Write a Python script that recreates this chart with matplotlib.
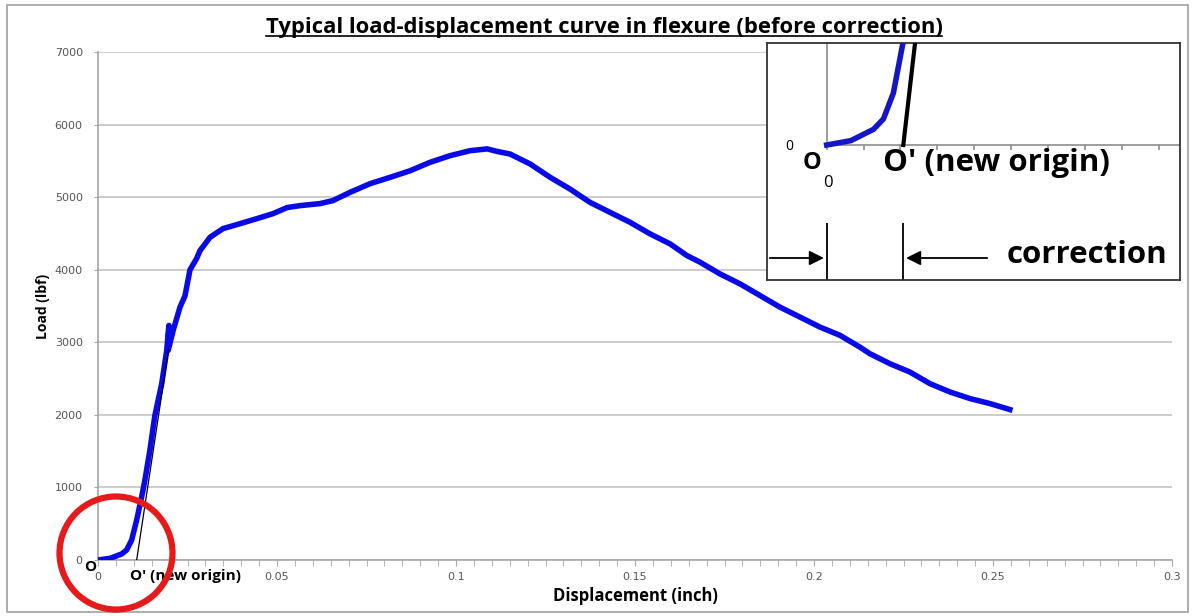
import numpy as np
import matplotlib.pyplot as plt
from matplotlib.patches import Ellipse, Rectangle
from matplotlib.lines import Line2D

# load-displacement data
disp = [0.0, 0.0034, 0.0066, 0.0080, 0.0094, 0.0108, 0.0122, 0.0131, 0.0145, 0.0159,
        0.0178, 0.0192, 0.0198, 0.0196, 0.0210, 0.0229, 0.0243, 0.0257, 0.0275, 0.0285,
        0.0313, 0.0349, 0.0397, 0.0444, 0.0489, 0.0528, 0.0564, 0.0620, 0.0656, 0.0704,
        0.0760, 0.0816, 0.0872, 0.0927, 0.0983, 0.1039, 0.1087, 0.1115, 0.1151, 0.1207,
        0.1263, 0.1318, 0.1374, 0.1430, 0.1486, 0.1542, 0.1598, 0.1645, 0.1682, 0.1737,
        0.1793, 0.1849, 0.1905, 0.1961, 0.2017, 0.2073, 0.2128, 0.2156, 0.2212, 0.2268,
        0.2324, 0.2380, 0.2436, 0.2492, 0.2547]
load = [0, 23, 83, 138, 275, 550, 871, 1100, 1513, 1994,
        2430, 2889, 3232, 2889, 3164, 3484, 3640, 3999, 4150, 4264,
        4447, 4566, 4635, 4704, 4773, 4856, 4883, 4911, 4952, 5066,
        5186, 5273, 5364, 5479, 5571, 5640, 5665, 5630, 5594, 5457,
        5273, 5113, 4929, 4791, 4654, 4494, 4356, 4195, 4103, 3943,
        3806, 3645, 3484, 3347, 3209, 3095, 2934, 2843, 2705, 2590,
        2430, 2315, 2224, 2155, 2073]

# tangent line through the linear part, meeting the axis at O'
tan_x = [0.0108, 0.0197]
tan_y = [0, 2900]

xticks = [0, 0.05, 0.1, 0.15, 0.2, 0.25, 0.3]
xticklabels = ['0', '0.05', '0.1', '0.15', '0.2', '0.25', '0.3']
yticks = [0, 1000, 2000, 3000, 4000, 5000, 6000, 7000]

W, H = 1193, 616
def fx(px):
    return px / W
def fy(py):
    return 1 - py / H

FONT = 'Open Sans'

fig = plt.figure(figsize=(W / 100, H / 100), dpi=100)
fig.patch.set_facecolor('white')

ax = fig.add_axes([fx(98), fy(560), fx(1172) - fx(98), fy(52) - fy(560)])
ax.plot(disp, load, color='#0a0ae6', lw=4, solid_joinstyle='round', zorder=3)
ax.plot(tan_x, tan_y, color='black', lw=0.9, zorder=4)

ax.set_xlim(0, 0.3)
ax.set_ylim(0, 7000)
ax.set_xticks(xticks)
ax.set_xticklabels(xticklabels)
ax.set_xticks(np.arange(0, 0.3001, 0.005), minor=True)
ax.set_yticks(yticks)
ax.set_yticklabels([str(v) for v in yticks])
gray = '#a6a6a6'
ax.grid(axis='y', color='#c4c4c4', lw=1.2)
ax.set_axisbelow(True)
for s in ['top', 'right']:
    ax.spines[s].set_visible(False)
for s in ['left', 'bottom']:
    ax.spines[s].set_color(gray)
    ax.spines[s].set_linewidth(1.2)
ax.tick_params(axis='x', which='both', length=4, color=gray, labelsize=8,
               labelcolor='#555555', pad=5)
ax.tick_params(axis='y', length=3, color=gray, labelsize=8, labelcolor='#555555', pad=8)
ax.set_xlabel('Displacement (inch)', fontsize=12, fontweight='bold', family=FONT,
              labelpad=3)
ax.set_ylabel('Load (lbf)', fontsize=10, fontweight='bold', family=FONT, labelpad=3)

title = fig.text(fx(604), fy(28), 'Typical load-displacement curve in flexure (before correction)',
                 ha='center', va='center', fontsize=15.8, fontweight='bold', family=FONT)

# origin marks on the main chart
fig.text(fx(90), fy(567), 'O', ha='center', va='center', fontsize=11, fontweight='bold',
         family=FONT)
fig.text(fx(130), fy(576), "O' (new origin)", ha='left', va='center', fontsize=11,
         fontweight='bold', family=FONT)

circle = Ellipse((fx(116), fy(553)), 113 / W, 113 / H, transform=fig.transFigure,
                 fill=False, edgecolor='#e51b1b', lw=4.5, zorder=10)
fig.patches.append(circle)

# inset: zoom on the toe region
ix0, ix1, iy0, iy1 = 767, 1180, 43, 280
ox, oy = 826.7, 145
xs = (903.3 - ox) / tan_x[0]
ys = (oy - iy0) / 540.0
ax_in = fig.add_axes([fx(ix0), fy(iy1), fx(ix1) - fx(ix0), fy(iy0) - fy(iy1)])
ax_in.set_xlim(-(ox - ix0) / xs, (ix1 - ox) / xs)
ax_in.set_ylim(-(iy1 - oy) / ys, (oy - iy0) / ys)
ax_in.set_xticks([])
ax_in.set_yticks([])
for s in ax_in.spines.values():
    s.set_color('#333333')
    s.set_linewidth(1.3)
ax_in.plot(disp, load, color='#1515c8', lw=4, solid_joinstyle='round', zorder=3)
ax_in.plot(tan_x, tan_y, color='black', lw=3, zorder=4)
ytop = (oy - iy0) / ys
xright = (ix1 - ox) / xs
ax_in.plot([0, 0], [0, ytop], color='#8c8c8c', lw=1.2, zorder=2)
ax_in.plot([0, xright], [0, 0], color='#8c8c8c', lw=1.2, zorder=2)
tl = 5 / ys
ax_in.vlines(np.arange(0, xright, 0.0052), -tl, 0, color='#8c8c8c', lw=1.2)

fig.text(fx(789), fy(146), '0', ha='center', va='center', fontsize=10, family=FONT)
fig.text(fx(812), fy(163), 'O', ha='center', va='center', fontsize=17, fontweight='bold',
         family=FONT)
fig.text(fx(828), fy(183), '0', ha='center', va='center', fontsize=12, family=FONT)
fig.text(fx(883), fy(163), "O' (new origin)", ha='left', va='center', fontsize=22.5,
         fontweight='bold', family=FONT)
fig.text(fx(1007), fy(255), 'correction', ha='left', va='center', fontsize=22.5,
         fontweight='bold', family=FONT)

ya = -(258 - oy) / ys
ybar = -(223 - oy) / ys
ybot = -(iy1 - oy) / ys
ax_in.vlines([0, tan_x[0]], ybot, ybar, color='black', lw=1.3)
ax_in.annotate('', xy=(0, ya), xytext=(ax_in.get_xlim()[0], ya),
               arrowprops=dict(arrowstyle='-|>', color='black', lw=1.3, mutation_scale=22))
ax_in.annotate('', xy=(tan_x[0], ya), xytext=((990 - ox) / xs, ya),
               arrowprops=dict(arrowstyle='-|>', color='black', lw=1.3, mutation_scale=22))

# outer frame
fig.patches.append(Rectangle((fx(7), fy(612)), fx(1188) - fx(7), fy(5) - fy(612),
                             transform=fig.transFigure, fill=False, edgecolor='#a0a0a0',
                             lw=1.2))

# underline the title
fig.canvas.draw()
bb = title.get_window_extent().transformed(fig.transFigure.inverted())
fig.add_artist(Line2D([bb.x0, bb.x1], [bb.y0 + 0.004, bb.y0 + 0.004], color='black',
                      lw=1.2, transform=fig.transFigure))

fig.savefig('out.png', dpi=100)
